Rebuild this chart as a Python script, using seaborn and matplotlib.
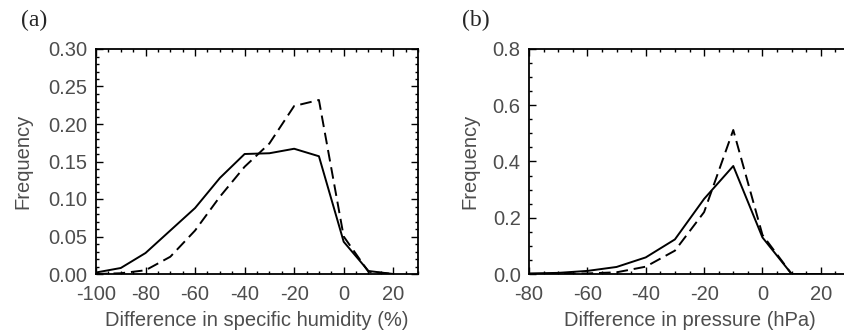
import seaborn as sns
import pandas as pd
import matplotlib.pyplot as plt
from matplotlib.ticker import MultipleLocator

# values
hum_x = [-100, -90, -80, -70, -60, -50, -40, -30, -20, -10, 0, 10, 20]
hum_solid = [0.002, 0.008, 0.028, 0.058, 0.088, 0.128, 0.160, 0.161, 0.167, 0.157, 0.043, 0.004, 0.0]
hum_dashed = [0.0, 0.001, 0.005, 0.023, 0.058, 0.103, 0.143, 0.174, 0.224, 0.232, 0.050, 0.003, 0.0]

pres_x = [-80, -70, -60, -50, -40, -30, -20, -10, 0, 10, 20]
pres_solid = [0.002, 0.004, 0.011, 0.025, 0.059, 0.123, 0.267, 0.384, 0.130, 0.0, 0.0]
pres_dashed = [0.0, 0.0, 0.002, 0.006, 0.026, 0.083, 0.220, 0.512, 0.139, 0.0, 0.0]

sns.set_style("ticks")
plt.rcParams['font.family'] = ['Liberation Sans', 'DejaVu Sans']
plt.rcParams['axes.unicode_minus'] = False
grey = "#4d4d4d"
fs = 14.5

hum = pd.DataFrame({"x": hum_x * 2, "y": hum_solid + hum_dashed,
                    "run": ["solid"] * len(hum_x) + ["dashed"] * len(hum_x)})
pres = pd.DataFrame({"x": pres_x * 2, "y": pres_solid + pres_dashed,
                     "run": ["solid"] * len(pres_x) + ["dashed"] * len(pres_x)})

fig = plt.figure(figsize=(8.45, 3.32), dpi=100)
ax1 = fig.add_axes([96 / 845, 58 / 332, 322 / 845, 225 / 332])
ax2 = fig.add_axes([529 / 845, 58 / 332, 321 / 845, 225 / 332])

for ax, df in [(ax1, hum), (ax2, pres)]:
    sns.lineplot(data=df, x="x", y="y", style="run", dashes={"solid": "", "dashed": (6, 3)},
                 color="black", linewidth=1.4, legend=False, ax=ax)
    for s in ax.spines.values():
        s.set_visible(True)
        s.set_linewidth(1.3)
        s.set_color("black")
    ax.tick_params(which="both", direction="in", top=True, right=True,
                   labelsize=fs, labelcolor=grey, color="black", width=1.0)
    ax.tick_params(which="major", length=5)
    ax.tick_params(which="minor", length=2.5)
    ax.tick_params(axis="x", which="major", pad=8)
    ax.tick_params(axis="y", which="major", pad=6)
    ax.set_ylabel("Frequency", fontsize=fs, color=grey)

ax1.set_xlim(-100, 30)
ax1.set_ylim(0, 0.30)
ax1.set_xticks([-100, -80, -60, -40, -20, 0, 20])
ax1.xaxis.set_minor_locator(MultipleLocator(5))
ax1.yaxis.set_major_locator(MultipleLocator(0.05))
ax1.yaxis.set_minor_locator(MultipleLocator(0.01))
ax1.yaxis.set_major_formatter(lambda v, p: f"{v:.2f}")
ax1.set_xlabel("Difference in specific humidity (%)", fontsize=fs, color=grey, labelpad=5)

ax2.set_xlim(-80, 30)
ax2.set_ylim(0, 0.8)
ax2.set_xticks([-80, -60, -40, -20, 0, 20])
ax2.xaxis.set_minor_locator(MultipleLocator(5))
ax2.yaxis.set_major_locator(MultipleLocator(0.2))
ax2.yaxis.set_minor_locator(MultipleLocator(0.05))
ax2.yaxis.set_major_formatter(lambda v, p: f"{v:.1f}")
ax2.tick_params(which="both", right=False)
ax2.set_xlabel("Difference in pressure (hPa)", fontsize=fs, color=grey, labelpad=5)

ax1.yaxis.set_label_coords(-0.199, 0.5)
ax2.yaxis.set_label_coords(-0.156, 0.5)

fig.text(21 / 845, 1 - 20 / 332, "(a)", family="Liberation Serif", fontsize=17, va="center", ha="left")
fig.text(462 / 845, 1 - 20 / 332, "(b)", family="Liberation Serif", fontsize=17, va="center", ha="left")

fig.savefig("out.png", dpi=100)
